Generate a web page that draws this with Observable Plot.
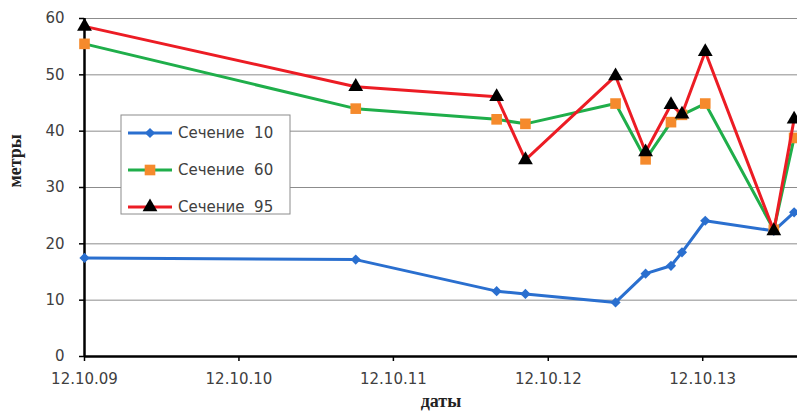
<!DOCTYPE html>
<html>
<head>
<meta charset="utf-8">
<script src="https://cdn.jsdelivr.net/npm/d3@7"></script>
<script src="https://cdn.jsdelivr.net/npm/@observablehq/plot@0.6"></script>
<style>
  html, body { margin: 0; padding: 0; background: #fff; }
  #chart { position: relative; width: 797px; height: 415px; overflow: hidden; }
</style>
</head>
<body>
<div id="chart"></div>
<script>
// Survey dates (dd.mm.yy)
const dates = ["12.10.09", "15.07.11", "12.06.12", "19.08.12", "20.03.13", "30.05.13",
               "29.07.13", "24.08.13", "18.10.13", "29.03.14", "16.05.14"];

// Measured values, metres, for each cross-section
const section10 = [17.5, 17.2, 11.6, 11.1, 9.6, 14.7, 16.1, 18.5, 24.1, 22.3, 25.6];
const section60 = [55.5, 44.0, 42.1, 41.3, 44.9, 35.0, 41.6, 42.9, 44.9, 22.5, 38.8];
const section95 = [58.6, 47.9, 46.1, 34.9, 49.8, 36.3, 44.7, 43.0, 54.1, 22.3, 42.1];

const seriesNames = ["Сечение  10", "Сечение  60", "Сечение  95"];

const xTickLabels = ["12.10.09", "12.10.10", "12.10.11", "12.10.12", "12.10.13"];
const xDomainLabels = ["12.10.09", "24.05.14"];
const yTicks = [0, 10, 20, 30, 40, 50, 60];

const parse = d3.utcParse("%d.%m.%y");
const fmt = d3.utcFormat("%d.%m.%y");

const styles = [
  {line: "#2a6fcf", fill: "#2a6fcf", symbol: "diamond2", r: 4.6},
  {line: "#1fae4a", fill: "#f58a2c", symbol: "square", r: 6.0},
  {line: "#ec1c24", fill: "#000000", symbol: "triangle", r: 5.5}
];

const seriesValues = [section10, section60, section95];
const rows = seriesNames.map((name, s) =>
  dates.map((d, i) => ({date: parse(d), value: seriesValues[s][i], name}))
);

const xDomain = xDomainLabels.map(parse);

const marks = [
  Plot.gridY(yTicks, {stroke: "#8c8c8c", strokeOpacity: 1, strokeWidth: 1}),
  Plot.axisY(yTicks, {tickSize: 5, tickPadding: 15, stroke: "#000", strokeWidth: 1.5, label: null}),
  Plot.axisX(xTickLabels.map(parse), {tickSize: 5, tickPadding: 12, stroke: "#000", strokeWidth: 1.5,
    tickFormat: fmt, label: null}),
  Plot.ruleX([xDomain[0]], {stroke: "#000", strokeWidth: 2.5}),
  Plot.ruleY([0], {stroke: "#000", strokeWidth: 2.5}),
  Plot.text(["метры"], {frameAnchor: "left", dx: -69, rotate: -90, fontFamily: "Liberation Serif",
    fontWeight: "bold", fontSize: 18, fill: "#222"}),
  Plot.text(["даты"], {frameAnchor: "bottom", dy: 50, fontFamily: "Liberation Serif",
    fontWeight: "bold", fontSize: 18, fill: "#222"})
];

rows.forEach((data, s) => {
  const st = styles[s];
  marks.push(Plot.line(data, {x: "date", y: "value", stroke: st.line, strokeWidth: 3}));
  marks.push(Plot.dot(data, {x: "date", y: "value", symbol: () => st.symbol, fill: st.fill,
    stroke: "none", r: st.r}));
});

const plot = Plot.plot({
  width: 797,
  height: 415,
  marginLeft: 84,
  marginRight: 0,
  marginTop: 18,
  marginBottom: 59,
  style: {fontSize: "15px", fontFamily: "DejaVu Sans", color: "#404040", background: "#fff"},
  x: {type: "utc", domain: xDomain},
  y: {domain: [0, 60]},
  symbol: {type: "identity"},
  marks
});

document.getElementById("chart").appendChild(plot);

// Legend box inside the plot area
const svg = d3.select(plot);
const lg = svg.append("g").attr("transform", "translate(121,115)");
lg.append("rect").attr("width", 169).attr("height", 99)
  .attr("fill", "#fff").attr("stroke", "#8c8c8c").attr("stroke-width", 1);
const symbolTypes = {diamond2: d3.symbolDiamond2, square: d3.symbolSquare, triangle: d3.symbolTriangle};
seriesNames.forEach((name, s) => {
  const st = styles[s];
  const cy = 18 + s * 37;
  lg.append("line").attr("x1", 7).attr("x2", 51).attr("y1", cy).attr("y2", cy)
    .attr("stroke", st.line).attr("stroke-width", 3);
  lg.append("path").attr("transform", `translate(29,${cy})`)
    .attr("d", d3.symbol(symbolTypes[st.symbol], st.r * st.r * Math.PI)())
    .attr("fill", st.fill);
  lg.append("text").attr("x", 57).attr("y", cy).attr("dy", "0.36em")
    .attr("text-anchor", "start")
    .style("white-space", "pre").attr("fill", "#404040")
    .text(name);
});
</script>
</body>
</html>
